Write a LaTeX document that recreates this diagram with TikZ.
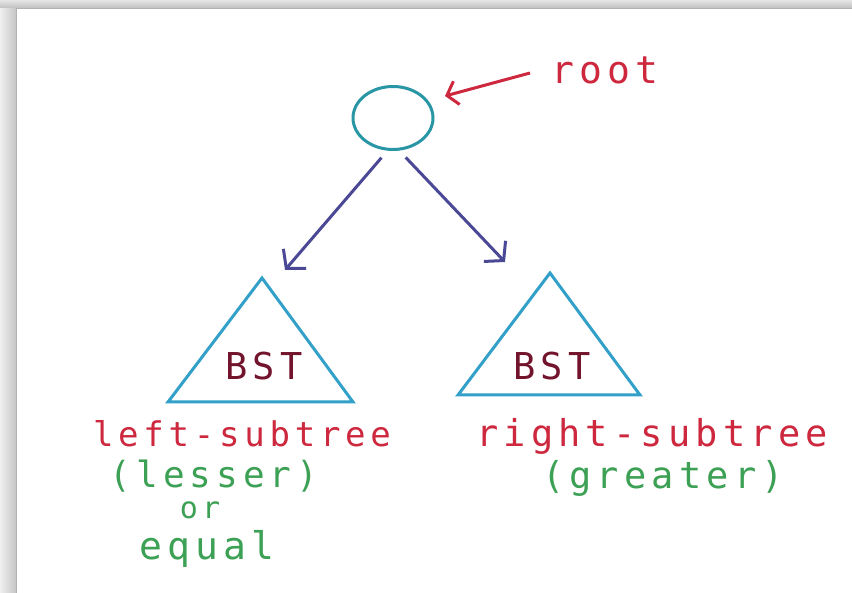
\documentclass[tikz,border=0pt]{standalone}
\usepackage{fontspec}
\usetikzlibrary{arrows.meta,shapes.geometric}
\newfontfamily\handfont[LetterSpace=14]{DejaVu Sans Mono}
\definecolor{redtxt}{RGB}{205,40,62}
\definecolor{greentxt}{RGB}{60,160,85}
\definecolor{arrowcol}{RGB}{75,72,150}
\definecolor{circcol}{RGB}{40,150,165}
\definecolor{tricol}{RGB}{50,160,200}
\definecolor{bstcol}{RGB}{115,20,45}
\tikzset{
  hand/.style={font=\handfont\fontsize{#1}{#1}\selectfont, inner sep=0pt},
  redlabel/.style={hand=#1, text=redtxt},
  greenlabel/.style={hand=#1, text=greentxt},
  treearrow/.style={draw=arrowcol, line width=3pt, -{Straight Barb[length=13pt,width=30pt,line width=3pt]}},
  rootarrow/.style={draw=redtxt, line width=3pt, -{Straight Barb[length=10pt,width=24pt,line width=3pt]}},
  subtri/.style={draw=tricol, line width=3pt, line join=miter},
}
\begin{document}
\begin{tikzpicture}[x=1pt,y=-1pt]
\useasboundingbox (0,0) rectangle (852,593);
\fill[white] (0,0) rectangle (852,593);
% frame shadow
\shade[left color=gray!12, right color=gray!45] (0,0) rectangle (16,593);
\shade[top color=gray!20, bottom color=gray!50] (0,0) rectangle (852,8);
\draw[gray!60, line width=0.8pt] (16,593) -- (16,8) -- (852,8);
% root
\node[ellipse, draw=circcol, line width=3pt, minimum width=80pt, minimum height=63pt, inner sep=0pt] (root) at (393,118) {};
\node[redlabel=38] (rootlbl) at (605,70) {root};
\coordinate (rootfrom) at (530,73);
\draw[rootarrow] (rootfrom) -- (445,96) coordinate (roottip);
% triangles
\coordinate (lapex) at (262,278);
\draw[subtri] (lapex) -- (168,402) -- (353,402) -- cycle;
\node[hand=37, text=bstcol] (lbst) at (264,366) {BST};
\coordinate (rapex) at (550,273);
\draw[subtri] (rapex) -- (458,395) -- (640,395) -- cycle;
\node[hand=37, text=bstcol] (rbst) at (552,366) {BST};
% arrows
\coordinate (ltip) at (285,270);
\coordinate (rtip) at (505,262);
\draw[treearrow] (root.250) ++(0,8) -- (ltip);
\draw[treearrow] (root.292) ++(0,8) -- (rtip);
% labels
\node[redlabel=34] (lsub) at (242,434) {left-subtree};
\node[greenlabel=36] (lesser) at (214,476) {(lesser)};
\node[greenlabel=30] (or) at (200,510) {or};
\node[greenlabel=38] (equal) at (207,549) {equal};
\node[redlabel=37] (rsub) at (652,436) {right-subtree};
\node[greenlabel=37] (greater) at (663,478) {(greater)};
\end{tikzpicture}
\end{document}
